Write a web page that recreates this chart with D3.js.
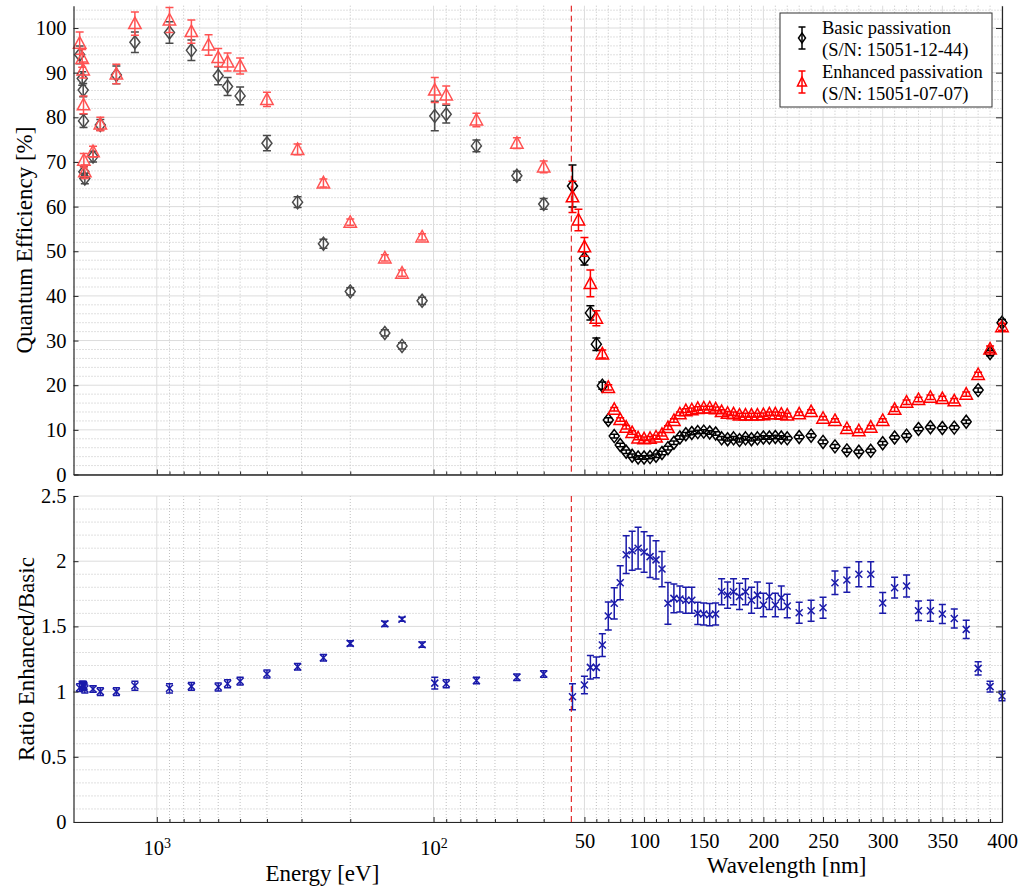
<!DOCTYPE html>
<html>
<head>
<meta charset="utf-8">
<script src="https://cdnjs.cloudflare.com/ajax/libs/d3/7.8.5/d3.min.js"></script>
<style>
body { margin: 0; background: #fff; }
svg text { font-family: "Liberation Serif", "Times New Roman", serif !important; fill: #000; }
</style>
</head>
<body>
<div id="chart"></div>
<script>
// ---------------- data ----------------
// soft x-ray part, plotted against photon energy (eV)
var energyEV  = [1900, 1860, 1845, 1840, 1835, 1820, 1700, 1600, 1400, 1200, 900, 750, 650, 600, 555, 500, 400, 310, 250, 200, 150, 130, 110, 99, 90, 70, 50, 40];
var basicE    = [94.0, 88.7, 86.1, 79.2, 67.8, 66.3, 71.2, 78.3, 89.5, 96.8, 99.0, 95.0, null, 89.3, 86.9, 84.8, 74.2, 61.0, 51.7, 41.0, 31.7, 28.8, 38.9, 80.3, 80.7, 73.6, 66.9, 60.6];
var basicEErr = [2.0, 1.5, 1.5, 1.5, 1.2, 1.2, 1.2, 1.2, 2.0, 2.3, 2.4, 2.3, null, 2.0, 2.0, 2.0, 1.7, 1.2, 1.0, 0.8, 0.7, 0.7, 0.8, 3.3, 2.0, 1.3, 1.0, 1.2];
var enhE      = [96.6, 93.2, 90.6, 82.8, 70.4, 67.8, 72.3, 78.5, 89.7, 101.0, 101.8, 99.2, 96.2, 93.4, 92.4, 91.5, 84.0, 72.8, 65.3, 56.5, 48.5, 45.1, 53.2, 86.1, 85.0, 79.4, 74.2, 68.9];
var enhEErr   = [2.5, 2.0, 1.8, 2.0, 1.5, 1.5, 1.2, 1.5, 2.2, 2.6, 2.8, 2.6, 2.3, 2.0, 2.0, 1.8, 1.6, 1.2, 0.9, 0.7, 0.7, 0.7, 0.7, 2.8, 2.0, 1.5, 1.2, 1.3];
var ratioE    = [1.03, 1.05, 1.05, 1.045, 1.04, 1.02, 1.02, 1.00, 1.00, 1.045, 1.025, 1.04, null, 1.035, 1.06, 1.08, 1.135, 1.19, 1.26, 1.37, 1.52, 1.555, 1.36, 1.065, 1.06, 1.085, 1.11, 1.135];
var ratioEErr = [0.03, 0.03, 0.03, 0.03, 0.03, 0.03, 0.025, 0.03, 0.03, 0.035, 0.035, 0.03, null, 0.03, 0.03, 0.03, 0.03, 0.025, 0.025, 0.02, 0.02, 0.015, 0.02, 0.045, 0.03, 0.025, 0.025, 0.025];

// EUV / VUV part, plotted against wavelength (nm)
var wavelengthNM = [40, 45, 50, 55, 60, 65, 70, 75, 80, 85, 90, 95, 100, 105, 110, 115, 120, 125, 130, 135, 140, 145, 150, 155, 160, 165, 170, 175, 180, 185, 190, 195, 200, 205, 210, 215, 220,
                    230, 240, 250, 260, 270, 280, 290, 300, 310, 320, 330, 340, 350, 360, 370, 380, 390, 400];
var basicW    = [64.6, null, 48.4, 36.2, 29.2, 19.9, 12.2, 8.6, 6.6, 5.1, 4.2, 3.8, 3.8, 3.9, 4.2, 4.8, 5.9, 7.1, 8.3, 9.0, 9.3, 9.5, 9.6, 9.4, 9.2, 8.1, 7.9, 8.1, 7.7, 8.1, 7.9, 8.1, 8.3, 8.3, 8.4, 8.3, 8.1,
                 8.4, 8.7, 7.3, 6.3, 5.4, 5.1, 5.3, 7.0, 8.3, 8.7, 10.2, 10.6, 10.4, 10.5, 11.8, 18.9, 27.2, 34.0];
var basicWErr = [4.7, null, 1.5, 1.6, 1.4, 0.8, 0.5, 0.4, 0.4, 0.4, 0.4, 0.4, 0.4, 0.4, 0.4, 0.4, 0.4, 0.4, 0.4, 0.4, 0.4, 0.4, 0.4, 0.4, 0.4, 0.4, 0.4, 0.4, 0.4, 0.4, 0.4, 0.4, 0.4, 0.4, 0.4, 0.4, 0.4,
                 0.4, 0.4, 0.4, 0.4, 0.4, 0.4, 0.4, 0.4, 0.4, 0.4, 0.4, 0.4, 0.4, 0.4, 0.4, 0.5, 0.6, 0.7];
var enhW      = [62.2, 57.0, 51.0, 42.8, 35.0, 27.0, 19.5, 14.6, 12.3, 10.6, 9.4, 8.2, 8.0, 8.1, 8.4, 9.0, 10.5, 12.1, 13.6, 14.3, 14.5, 14.8, 14.9, 14.9, 14.7, 14.1, 13.7, 13.6, 13.3, 13.3, 13.3, 13.3, 13.4, 13.6, 13.6, 13.5, 13.3,
                 13.6, 14.1, 12.6, 12.1, 10.3, 9.8, 10.6, 12.1, 14.6, 16.2, 16.8, 17.3, 17.0, 16.5, 18.0, 22.4, 28.1, 33.1];
var enhWErr   = [3.5, 2.4, 2.1, 3.0, 1.7, 0.9, 0.6, 0.4, 0.4, 0.4, 0.4, 0.4, 0.4, 0.4, 0.4, 0.4, 0.4, 0.4, 0.4, 0.4, 0.4, 0.4, 0.4, 0.4, 0.4, 0.4, 0.4, 0.4, 0.4, 0.4, 0.4, 0.4, 0.4, 0.4, 0.4, 0.4, 0.4,
                 0.4, 0.4, 0.4, 0.4, 0.4, 0.4, 0.4, 0.4, 0.5, 0.5, 0.5, 0.5, 0.5, 0.5, 0.5, 0.5, 0.7, 0.8];
var ratioW    = [0.96, null, 1.05, 1.186, 1.186, 1.357, 1.58, 1.677, 1.835, 2.05, 2.08, 2.10, 2.07, 2.035, 2.01, 1.94, 1.677, 1.715, 1.71, 1.70, 1.70, 1.60, 1.595, 1.59, 1.595, 1.766, 1.74, 1.766, 1.73, 1.766, 1.70, 1.74, 1.664, 1.73, 1.664, 1.72, 1.656,
                 1.605, 1.62, 1.643, 1.835, 1.856, 1.90, 1.90, 1.68, 1.797, 1.81, 1.62, 1.62, 1.595, 1.56, 1.477, 1.178, 1.038, 0.966];
var ratioWErr = [0.10, null, 0.067, 0.09, 0.08, 0.087, 0.107, 0.12, 0.13, 0.145, 0.15, 0.16, 0.155, 0.16, 0.147, 0.135, 0.16, 0.11, 0.10, 0.10, 0.10, 0.085, 0.085, 0.085, 0.085, 0.10, 0.10, 0.10, 0.10, 0.10, 0.10, 0.10, 0.09, 0.10, 0.09, 0.09, 0.09,
                 0.08, 0.08, 0.08, 0.09, 0.095, 0.095, 0.095, 0.08, 0.08, 0.085, 0.075, 0.08, 0.072, 0.073, 0.07, 0.05, 0.042, 0.037];

var qeTicks = d3.range(0, 101, 10);
var ratioTicks = [0, 0.5, 1, 1.5, 2, 2.5];
var energyTicks = [1000, 100];
var wavelengthTicks = [50, 100, 150, 200, 250, 300, 350, 400];
var junctionNM = 39;   // where the energy axis hands over to the wavelength axis
var legendLabels = [["Basic passivation", "(S/N: 15051-12-44)"], ["Enhanced passivation", "(S/N: 15051-07-07)"]];

// ---------------- layout ----------------
var width = 1023, height = 892;
var left = 73.5, right = 1002, junctionX = 571.3;
var topPanel = { top: 5.7, bottom: 474.5 }, botPanel = { top: 496, bottom: 822 };
var serif = '"Liberation Serif", "Times New Roman", serif';

var svg = d3.select("#chart").append("svg")
    .attr("width", width)
    .attr("height", height)
    .attr("font-family", serif);

// energy part is log, reversed; wavelength part is linear
var xE = d3.scaleLog().domain([2000, 1239.84 / junctionNM]).range([left, junctionX]);
var xW = d3.scaleLinear().domain([junctionNM, 400]).range([junctionX, right]);
var yQE = d3.scaleLinear().domain([0, 105]).range([topPanel.bottom, topPanel.top]);
var yR = d3.scaleLinear().domain([0, 2.5]).range([botPanel.bottom, botPanel.top]);

// minor x positions
var energyMinor = [900, 800, 700, 600, 500, 400, 300, 200, 90, 80, 70, 60, 50, 40];
var wlMinor = d3.range(60, 400, 10).filter(function (d) { return d % 50 !== 0; });

function drawGrid(g, y, yTicks, yMinor, p) {
    var minorStyle = function (sel) {
        sel.attr("stroke", "#c0c0c0").attr("stroke-width", 1).attr("stroke-dasharray", "1,2");
    };
    var majorStyle = function (sel) {
        sel.attr("stroke", "#dcdcdc").attr("stroke-width", 1);
    };
    g.selectAll(".ymin").data(yMinor).enter().append("line")
        .attr("x1", left).attr("x2", right)
        .attr("y1", function (d) { return y(d); }).attr("y2", function (d) { return y(d); })
        .call(minorStyle);
    g.selectAll(".xminE").data(energyMinor).enter().append("line")
        .attr("x1", function (d) { return xE(d); }).attr("x2", function (d) { return xE(d); })
        .attr("y1", p.top).attr("y2", p.bottom)
        .call(minorStyle);
    g.selectAll(".xminW").data(wlMinor).enter().append("line")
        .attr("x1", function (d) { return xW(d); }).attr("x2", function (d) { return xW(d); })
        .attr("y1", p.top).attr("y2", p.bottom)
        .call(minorStyle);
    g.selectAll(".ymaj").data(yTicks).enter().append("line")
        .attr("x1", left).attr("x2", right)
        .attr("y1", function (d) { return y(d); }).attr("y2", function (d) { return y(d); })
        .call(majorStyle);
    g.selectAll(".xmajE").data(energyTicks).enter().append("line")
        .attr("x1", function (d) { return xE(d); }).attr("x2", function (d) { return xE(d); })
        .attr("y1", p.top).attr("y2", p.bottom)
        .call(majorStyle);
    g.selectAll(".xmajW").data(wavelengthTicks).enter().append("line")
        .attr("x1", function (d) { return xW(d); }).attr("x2", function (d) { return xW(d); })
        .attr("y1", p.top).attr("y2", p.bottom)
        .call(majorStyle);
}

function drawAxes(g, y, yTicks, yFormat, p, withLabels) {
    // left axis
    var ax = g.append("g").attr("transform", "translate(" + left + ",0)")
        .call(d3.axisLeft(y).tickValues(yTicks).tickSizeInner(-5).tickSizeOuter(0).tickPadding(7).tickFormat(yFormat));
    ax.attr("font-family", serif).selectAll("text").style("font-size", "20.5px");
    // right axis (ticks only)
    g.append("g").attr("transform", "translate(" + right + ",0)")
        .call(d3.axisRight(y).tickValues(yTicks).tickSizeInner(-6).tickSizeOuter(0).tickFormat(""));
    // bottom axes: energy + wavelength, majors and minors
    var base = "translate(0," + p.bottom + ")";
    g.append("g").attr("transform", base)
        .call(d3.axisBottom(xE).tickValues(energyMinor).tickSizeInner(-3).tickSizeOuter(0).tickFormat(""));
    g.append("g").attr("transform", base)
        .call(d3.axisBottom(xW).tickValues(wlMinor).tickSizeInner(-3).tickSizeOuter(0).tickFormat(""));
    var eAx = g.append("g").attr("transform", base)
        .call(d3.axisBottom(xE).tickValues(energyTicks).tickSizeInner(-5).tickSizeOuter(0).tickPadding(18));
    var wAx = g.append("g").attr("transform", base)
        .call(d3.axisBottom(xW).tickValues(wavelengthTicks).tickSizeInner(-5).tickSizeOuter(0).tickPadding(11.5));
    eAx.attr("font-family", serif);
    wAx.attr("font-family", serif);
    if (withLabels) {
        wAx.selectAll("text").style("font-size", "20.5px");
        eAx.selectAll("text").style("font-size", "20.5px").text(null).each(function (d) {
            var t = d3.select(this);
            t.append("tspan").text("10");
            t.append("tspan").attr("dy", "-0.5em").style("font-size", "14px").text(Math.round(Math.log10(d)));
        });
    } else {
        eAx.selectAll("text").remove();
        wAx.selectAll("text").remove();
    }
    g.selectAll(".domain").attr("stroke", "#262626").attr("stroke-width", 1.2);
    g.selectAll(".tick line").attr("stroke", "#262626");
}

var diamond = "M0,-6.5L5,0L0,6.5L-5,0Z";
var triangle = "M0,-6.5L6.2,5L-6.2,5Z";
var cross = "M-3.5,-3.5L3.5,3.5M-3.5,3.5L3.5,-3.5";

function rows(xs, vals, errs) {
    return xs.map(function (x, i) { return { x: x, v: vals[i], e: errs[i] }; })
        .filter(function (d) { return d.v !== null; });
}

function drawSeries(g, data, x, y, color, shape, cap) {
    var s = g.append("g");
    s.selectAll(".eb").data(data).enter().append("path")
        .attr("d", function (d) {
            var cx = x(d.x), y0 = y(d.v - d.e), y1 = y(d.v + d.e);
            return "M" + cx + "," + y0 + "V" + y1 +
                "M" + (cx - cap) + "," + y0 + "H" + (cx + cap) +
                "M" + (cx - cap) + "," + y1 + "H" + (cx + cap);
        })
        .attr("fill", "none").attr("stroke", color).attr("stroke-width", 1.5);
    s.selectAll(".mk").data(data).enter().append("path")
        .attr("transform", function (d) { return "translate(" + x(d.x) + "," + y(d.v) + ")"; })
        .attr("d", shape)
        .attr("fill", "none").attr("stroke", color).attr("stroke-width", 1.5);
}

// ---------------- top panel: quantum efficiency ----------------
var topG = svg.append("g");
drawGrid(topG, yQE, qeTicks, d3.range(2, 105, 2).filter(function (d) { return d % 10 !== 0; }), topPanel);

drawSeries(topG, rows(energyEV, basicE, basicEErr), xE, yQE, "#4a4a4a", diamond, 4);
drawSeries(topG, rows(energyEV, enhE, enhEErr), xE, yQE, "#ff5252", triangle, 4);
drawSeries(topG, rows(wavelengthNM, basicW, basicWErr), xW, yQE, "#000000", diamond, 4);
drawSeries(topG, rows(wavelengthNM, enhW, enhWErr), xW, yQE, "#ff0000", triangle, 4);

drawAxes(topG, yQE, qeTicks, d3.format("d"), topPanel, false);

// ---------------- bottom panel: ratio ----------------
var botG = svg.append("g");
drawGrid(botG, yR, ratioTicks, d3.range(0.1, 2.5, 0.1).filter(function (d) { return Math.abs(d * 2 - Math.round(d * 2)) > 1e-6; }), botPanel);

drawSeries(botG, rows(energyEV, ratioE, ratioEErr), xE, yR, "#1a1aaa", cross, 3.5);
drawSeries(botG, rows(wavelengthNM, ratioW, ratioWErr), xW, yR, "#1a1aaa", cross, 3.5);

drawAxes(botG, yR, ratioTicks, function (d) { return d3.format("")(d); }, botPanel, true);

// dashed separator between the energy and wavelength parts
[topPanel, botPanel].forEach(function (p) {
    svg.append("line")
        .attr("x1", xW(junctionNM)).attr("x2", xW(junctionNM))
        .attr("y1", p.top).attr("y2", p.bottom)
        .attr("stroke", "#e00000").attr("stroke-width", 1)
        .attr("stroke-dasharray", "6,4");
});

// ---------------- axis labels ----------------
svg.append("text")
    .attr("transform", "translate(24," + ((topPanel.top + topPanel.bottom) / 2) + ") rotate(-90)")
    .attr("text-anchor", "middle").attr("dominant-baseline", "central")
    .style("font-size", "23px")
    .text("Quantum Efficiency [%]");
svg.append("text")
    .attr("transform", "translate(26," + ((botPanel.top + botPanel.bottom) / 2) + ") rotate(-90)")
    .attr("text-anchor", "middle").attr("dominant-baseline", "central")
    .style("font-size", "23px")
    .text("Ratio Enhanced/Basic");
svg.append("text")
    .attr("x", (left + junctionX) / 2).attr("y", 881)
    .attr("text-anchor", "middle")
    .style("font-size", "23px")
    .text("Energy [eV]");
svg.append("text")
    .attr("x", (junctionX + right) / 2).attr("y", 873)
    .attr("text-anchor", "middle")
    .style("font-size", "23px")
    .text("Wavelength [nm]");

// ---------------- legend ----------------
var legend = svg.append("g").attr("transform", "translate(780,13)");
legend.append("rect")
    .attr("width", 212).attr("height", 94)
    .attr("fill", "#fff").attr("stroke", "#333").attr("stroke-width", 1);
var legendItems = [
    { color: "#000000", shape: "M0,-5L3.5,0L0,5L-3.5,0Z", cy: 25 },
    { color: "#ff0000", shape: "M0,-5L4.5,4L-4.5,4Z", cy: 69 }
];
legendItems.forEach(function (it, i) {
    var lg = legend.append("g").attr("transform", "translate(22," + it.cy + ")");
    lg.append("path")
        .attr("d", "M0,-11V11M-3.5,-11H3.5M-3.5,11H3.5")
        .attr("fill", "none").attr("stroke", it.color).attr("stroke-width", 1.5);
    lg.append("path").attr("d", it.shape)
        .attr("fill", "none").attr("stroke", it.color).attr("stroke-width", 1.5);
    legendLabels[i].forEach(function (line, j) {
        legend.append("text")
            .attr("x", 42).attr("y", it.cy - 4 + j * 21.5)
            .style("font-size", "18.5px")
            .text(line);
    });
});
</script>
</body>
</html>
